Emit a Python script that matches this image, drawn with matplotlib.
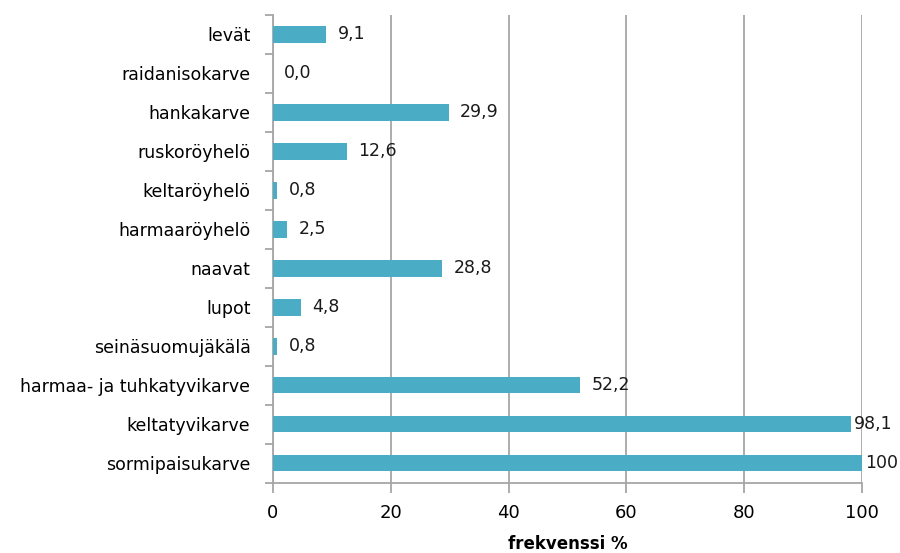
"""Horizontal bar chart of lichen group frequencies."""

import matplotlib.pyplot as plt
import numpy as np

# Category names, top to bottom
LAJIT = [
    "levät",
    "raidanisokarve",
    "hankakarve",
    "ruskoröyhelö",
    "keltaröyhelö",
    "harmaaröyhelö",
    "naavat",
    "lupot",
    "seinäsuomujäkälä",
    "harmaa- ja tuhkatyvikarve",
    "keltatyvikarve",
    "sormipaisukarve",
]
FREKVENSSI = [9.1, 0.0, 29.9, 12.6, 0.8, 2.5, 28.8, 4.8, 0.8, 52.2, 98.1, 100]
X_TICKS = [0, 20, 40, 60, 80, 100]

BAR_COLOR = "#4BACC6"
GRID_COLOR = "#A6A6A6"


def main():
    fig = plt.figure(figsize=(9, 5.53), dpi=100)
    ax = fig.add_axes([0.303, 0.127, 0.655, 0.846])

    y = np.arange(len(LAJIT))[::-1]
    ax.barh(y, FREKVENSSI, height=0.42, color=BAR_COLOR, zorder=3)

    # Value labels next to each bar, pulled in near the right edge
    for yi, value in zip(y, FREKVENSSI):
        label = f"{value:.1f}".replace(".", ",") if value < 100 else f"{value:g}"
        offset = 8 if value < 95 else 2
        ax.annotate(label, (value, yi), xytext=(offset, 0), textcoords="offset points",
                    va="center", ha="left", fontsize=12.5, color="#1a1a1a", zorder=4)

    ax.set_xlim(0, 100)
    ax.set_ylim(-0.5, len(LAJIT) - 0.5)
    ax.set_xticks(X_TICKS)
    ax.set_xticklabels([str(t) for t in X_TICKS], fontsize=13)
    ax.xaxis.grid(True, color=GRID_COLOR, linewidth=1.3, zorder=0)

    # Category labels between boundary ticks on the left axis
    ax.set_yticks(y)
    ax.set_yticklabels(LAJIT, fontsize=12.5)
    ax.tick_params(axis="y", length=0, pad=16)
    ax.set_yticks(np.arange(-0.5, len(LAJIT)), minor=True)
    ax.tick_params(axis="y", which="minor", length=6, color=GRID_COLOR, width=1.3)
    ax.tick_params(axis="x", length=7, color=GRID_COLOR, width=1.3, pad=8)

    for side in ("top", "right"):
        ax.spines[side].set_visible(False)
    for side in ("left", "bottom"):
        ax.spines[side].set_color(GRID_COLOR)
        ax.spines[side].set_linewidth(1.3)

    ax.set_xlabel("frekvenssi %", fontsize=12, fontweight="bold", labelpad=10)

    fig.savefig("out.png", dpi=100)
    plt.close(fig)


if __name__ == "__main__":
    main()
